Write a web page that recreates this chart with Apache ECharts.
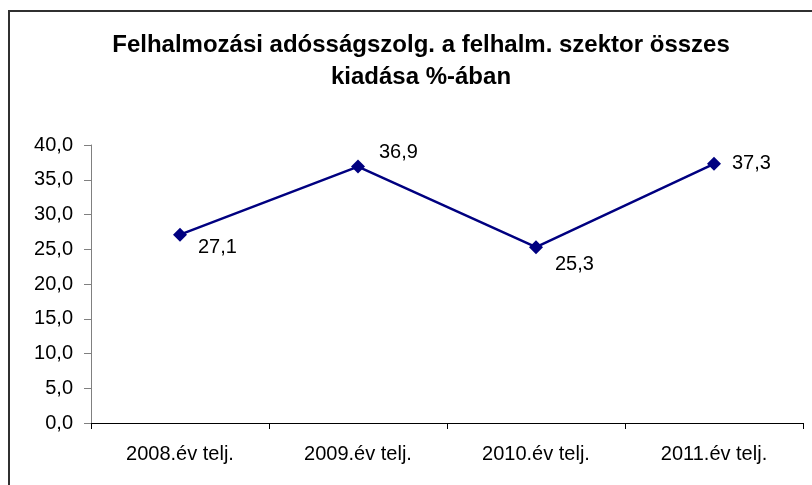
<!DOCTYPE html>
<html>
<head>
<meta charset="utf-8">
<script src="https://cdn.jsdelivr.net/npm/echarts@6/dist/echarts.min.js"></script>
<style>
html,body{margin:0;padding:0;background:#fff;overflow:hidden;}
#frame{position:absolute;left:8px;top:10px;width:830px;height:500px;border:2px solid #303030;box-sizing:border-box;}
#chart{position:absolute;left:0;top:0;width:812px;height:485px;}
</style>
</head>
<body>
<div id="frame"></div>
<div id="chart"></div>
<script>
const categories = ['2008.év telj.', '2009.év telj.', '2010.év telj.', '2011.év telj.'];
const values = [27.1, 36.9, 25.3, 37.3];
const yTicks = { min: 0, max: 40, interval: 5 };

const labelOffsets = [[6, 13], [9, -14], [7, 17], [6, 0]];
const fmt = v => v.toFixed(1).replace('.', ',');
const FONT = 'Liberation Sans, Arial, sans-serif';

const chart = echarts.init(document.getElementById('chart'), null, { renderer: 'canvas' });
chart.setOption({
  animation: false,
  backgroundColor: 'transparent',
  title: {
    text: 'Felhalmozási adósságszolg. a felhalm. szektor összes\nkiadása %-ában',
    left: 416, textAlign: 'center', top: 24,
    textStyle: { fontFamily: FONT, fontWeight: 'bold', fontSize: 24, color: '#000', lineHeight: 32 }
  },
  grid: { left: 91, right: 9, top: 145, bottom: 62, containLabel: false },
  xAxis: {
    type: 'category', data: categories, boundaryGap: true,
    axisLine: { lineStyle: { color: '#000', width: 1 } },
    axisTick: { show: true, length: 6, lineStyle: { color: '#000' } },
    axisLabel: { margin: 21, fontSize: 20, color: '#000', fontFamily: FONT },
    splitLine: { show: false }
  },
  yAxis: {
    type: 'value', min: yTicks.min, max: yTicks.max, interval: yTicks.interval,
    axisLine: { show: true, lineStyle: { color: '#808080', width: 1 } },
    axisTick: { show: true, length: 7, lineStyle: { color: '#808080' } },
    axisLabel: { margin: 18, fontSize: 20, color: '#000', fontFamily: FONT, formatter: v => fmt(v) },
    splitLine: { show: false }
  },
  series: [{
    type: 'line',
    data: values.map((v, i) => ({ value: v, label: { offset: labelOffsets[i] } })),
    symbol: 'diamond', symbolSize: 14,
    lineStyle: { color: '#000080', width: 2.5 },
    itemStyle: { color: '#000080' },
    label: {
      show: true, position: 'right', distance: 5,
      fontSize: 20, color: '#000', fontFamily: FONT,
      formatter: p => fmt(p.value)
    }
  }]
});
</script>
</body>
</html>
